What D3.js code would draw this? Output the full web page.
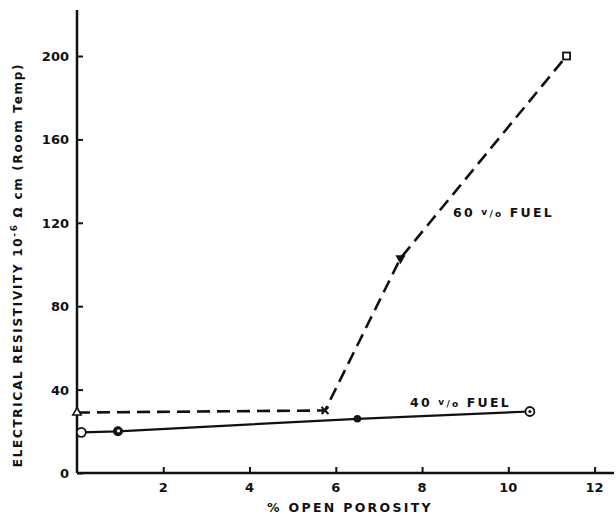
<!DOCTYPE html>
<meta charset="utf-8">
<script src="https://d3js.org/d3.v7.min.js"></script>
<style>
  body { margin: 0; background: #fff; }
  text { font-family: "DejaVu Sans", sans-serif; font-weight: bold; fill: #111; }
</style>
<div id="chart"></div>
<script>

// 60 v/o fuel (dashed)
var fuel60X = [0, 5.75, 7.5, 11.35];
var fuel60Y = [29, 30, 103, 200];
var fuel60Marks = ["triangle", "cross", "tridown", "square"];

// 40 v/o fuel (solid)
var fuel40X = [0.1, 0.95, 6.5, 10.5];
var fuel40Y = [19.5, 20, 26, 29.5];
var fuel40Marks = ["circle", "dotcircle", "dot", "ringdot"];

var xTicks = [2, 4, 6, 8, 10, 12];
var yTicks = [0, 40, 80, 120, 160, 200];

var width = 616, height = 516;
var svg = d3.select("#chart").append("svg")
    .attr("width", width)
    .attr("height", height);

var x = d3.scaleLinear().domain([0, 12.45]).range([77, 614]);
var y = d3.scaleLinear().domain([0, 200]).range([473, 56]);

// axes
svg.append("line")
    .attr("x1", x(0)).attr("x2", x(0))
    .attr("y1", 10).attr("y2", y(0))
    .attr("stroke", "#111").attr("stroke-width", 2.5);
svg.append("line")
    .attr("x1", x(0)).attr("x2", 614)
    .attr("y1", y(0)).attr("y2", y(0))
    .attr("stroke", "#111").attr("stroke-width", 2.5);

var yAxis = svg.append("g")
    .attr("transform", "translate(" + x(0) + ",0)")
    .call(d3.axisRight(y).tickValues(yTicks).tickSize(6).tickFormat(""));
yAxis.select(".domain").remove();
yAxis.selectAll("line").attr("stroke", "#111").attr("stroke-width", 2);

svg.selectAll(".ylab")
    .data(yTicks)
  .enter().append("text")
    .attr("x", 69)
    .attr("y", function(d) { return y(d) + 5; })
    .attr("text-anchor", "end")
    .style("font-size", "13px")
    .text(function(d) { return d; });

var xAxis = svg.append("g")
    .attr("transform", "translate(0," + y(0) + ")")
    .call(d3.axisTop(x).tickValues(xTicks).tickSize(6).tickFormat(""));
xAxis.select(".domain").remove();
xAxis.selectAll("line").attr("stroke", "#111").attr("stroke-width", 2);

svg.selectAll(".xlab")
    .data(xTicks)
  .enter().append("text")
    .attr("x", function(d) { return x(d); })
    .attr("y", 492)
    .attr("text-anchor", "middle")
    .style("font-size", "13px")
    .text(function(d) { return d; });

// axis titles
svg.append("text")
    .attr("x", 350)
    .attr("y", 512)
    .attr("text-anchor", "middle")
    .style("font-size", "12.5px")
    .style("letter-spacing", "2.3px")
    .text("% OPEN POROSITY");

var yt = svg.append("text")
    .attr("transform", "translate(22,265) rotate(-90)")
    .attr("text-anchor", "middle")
    .style("font-size", "12px")
    .style("letter-spacing", "1.7px");
yt.append("tspan").text("ELECTRICAL  RESISTIVITY  10");
yt.append("tspan").attr("dy", -5).style("font-size", "9px").text("-6");
yt.append("tspan").attr("dy", 5).text(" Ω cm  (Room Temp)");

// lines
var line = d3.line()
    .x(function(d) { return x(d[0]); })
    .y(function(d) { return y(d[1]); });

var pts60 = d3.zip(fuel60X, fuel60Y, fuel60Marks);
var pts40 = d3.zip(fuel40X, fuel40Y, fuel40Marks);

svg.append("path")
    .datum(pts60)
    .attr("d", line)
    .attr("fill", "none")
    .attr("stroke", "#111")
    .attr("stroke-width", 2.6)
    .attr("stroke-dasharray", "13,7");

svg.append("path")
    .datum(pts40)
    .attr("d", line)
    .attr("fill", "none")
    .attr("stroke", "#111")
    .attr("stroke-width", 2.2);

// markers
function drawMark(g, kind) {
  if (kind === "triangle") {
    g.append("path").attr("d", d3.symbol(d3.symbolTriangle, 30)())
      .attr("fill", "#fff").attr("stroke", "#111").attr("stroke-width", 1.6);
  } else if (kind === "cross") {
    g.append("path").attr("d", "M-3.5,-3.5L3.5,3.5M-3.5,3.5L3.5,-3.5")
      .attr("stroke", "#111").attr("stroke-width", 2);
  } else if (kind === "tridown") {
    g.append("path").attr("d", d3.symbol(d3.symbolTriangle, 45)())
      .attr("transform", "rotate(180)")
      .attr("fill", "#111");
  } else if (kind === "square") {
    g.append("rect").attr("x", -3.5).attr("y", -3.5).attr("width", 7).attr("height", 7)
      .attr("fill", "#fff").attr("stroke", "#111").attr("stroke-width", 1.8);
  } else if (kind === "circle") {
    g.append("circle").attr("r", 4.5)
      .attr("fill", "#fff").attr("stroke", "#111").attr("stroke-width", 1.8);
  } else if (kind === "dotcircle") {
    g.append("circle").attr("r", 5).attr("fill", "#111");
    g.append("circle").attr("r", 1.6).attr("cx", 0.5).attr("cy", -0.5).attr("fill", "#fff");
  } else if (kind === "dot") {
    g.append("circle").attr("r", 3.8).attr("fill", "#111");
  } else if (kind === "ringdot") {
    g.append("circle").attr("r", 4.5)
      .attr("fill", "#fff").attr("stroke", "#111").attr("stroke-width", 1.8);
    g.append("circle").attr("r", 1.5).attr("fill", "#111");
  }
}

svg.selectAll(".mark")
    .data(pts60.concat(pts40))
  .enter().append("g")
    .attr("transform", function(d) { return "translate(" + x(d[0]) + "," + y(d[1]) + ")"; })
    .each(function(d) { drawMark(d3.select(this), d[2]); });

// series labels
function fuelLabel(px, py, num) {
  var t = svg.append("text")
      .attr("x", px).attr("y", py)
      .style("font-size", "12.5px")
      .style("letter-spacing", "2.2px");
  t.append("tspan").text(num + " ");
  t.append("tspan").style("font-size", "9px").attr("dy", -2).text("v");
  t.append("tspan").style("font-size", "9px").attr("dy", 2).text("/o");
  t.append("tspan").text(" FUEL");
}
fuelLabel(453, 217, "60");
fuelLabel(410, 407, "40");

</script>
